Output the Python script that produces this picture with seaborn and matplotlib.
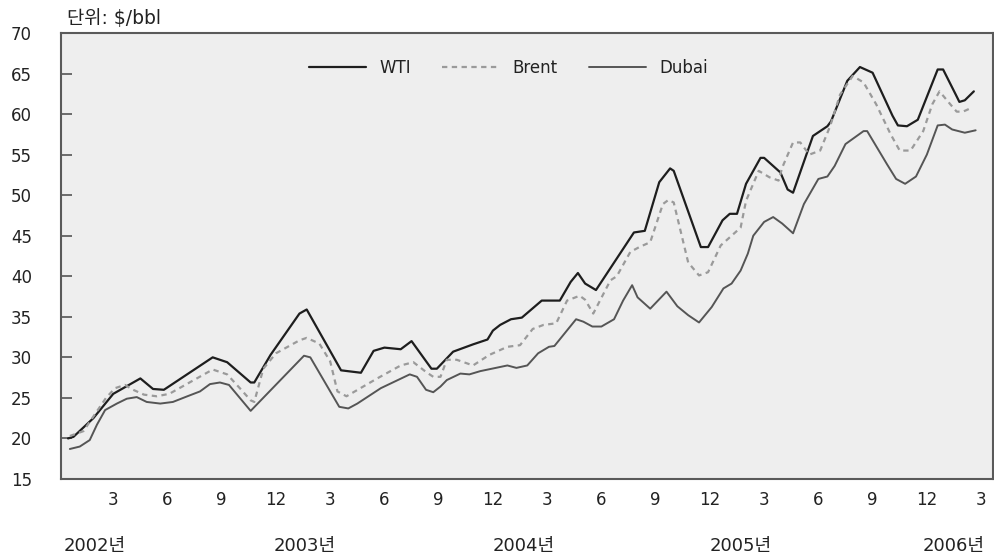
import matplotlib
matplotlib.use("Agg")
import matplotlib.pyplot as plt
import pandas as pd
import seaborn as sns

# x values are months counted from 2002-01-01
wti_month = [0.0, 0.3, 1.4, 2.5, 4.0, 4.7, 5.3, 8.0, 8.8, 10.1, 10.3, 11.2, 12.8, 13.2,
             15.1, 16.2, 16.9, 17.5, 18.4, 19.0, 20.1, 20.4, 21.3, 22.4, 23.2, 23.5,
             23.9, 24.5, 25.1, 26.2, 27.2, 27.8, 28.2, 28.6, 29.2, 31.3, 31.9, 32.7,
             33.3, 33.5, 35.0, 35.4, 36.2, 36.6, 37.0, 37.5, 38.3, 38.5, 39.4, 39.8,
             40.1, 41.2, 42.0, 42.2, 43.1, 43.8, 44.5, 45.6, 45.9, 46.4, 47.0, 48.1,
             48.4, 49.1, 49.3, 49.6, 50.1]
wti_price = [20.0, 20.2, 22.5, 25.5, 27.4, 26.1, 26.0, 30.0, 29.4, 26.9, 26.9, 30.3, 35.4, 35.9,
             28.4, 28.1, 30.8, 31.2, 31.0, 32.0, 28.6, 28.6, 30.7, 31.6, 32.2, 33.3,
             34.0, 34.7, 34.9, 37.0, 37.0, 39.3, 40.4, 39.1, 38.3, 45.4, 45.6, 51.6,
             53.3, 53.0, 43.6, 43.6, 46.9, 47.7, 47.7, 51.4, 54.6, 54.6, 52.8, 50.7,
             50.3, 57.3, 58.5, 59.1, 64.1, 65.8, 65.1, 59.8, 58.6, 58.5, 59.3, 65.5,
             65.5, 62.4, 61.5, 61.7, 62.8]

brent_month = [0.1, 0.85, 2.1, 2.6, 3.15, 3.6, 4.2, 4.9, 5.6, 8.0, 8.8, 9.5, 10.1, 10.3,
               10.8, 11.5, 12.8, 13.2, 13.9, 14.5, 14.9, 15.4, 17.1, 18.4, 19.1, 19.8,
               20.2, 20.6, 20.95, 21.5, 22.4, 23.3, 24.3, 25.0, 25.7, 26.3, 27.0, 27.6,
               28.3, 28.6, 29.05, 30.0, 30.35, 31.1, 31.6, 32.2, 32.9, 33.2, 33.5, 33.9,
               34.3, 34.9, 35.4, 36.1, 36.8, 37.2, 37.5, 38.2, 38.8, 39.3, 39.5, 40.1,
               40.5, 41.0, 41.6, 42.15, 42.7, 43.4, 44.0, 44.7, 45.5, 46.0, 46.6, 47.3,
               47.8, 48.2, 48.8, 49.15, 49.5, 50.0]
brent_price = [20.3, 20.9, 25.0, 26.2, 26.6, 26.0, 25.4, 25.2, 25.5, 28.5, 27.9, 26.2, 24.7, 24.5,
               28.6, 30.5, 32.1, 32.4, 31.7, 29.5, 25.8, 25.2, 27.4, 29.0, 29.4, 28.2,
               27.6, 27.6, 29.7, 29.7, 29.0, 30.3, 31.3, 31.5, 33.5, 34.0, 34.2, 37.0,
               37.6, 37.1, 35.4, 39.5, 40.0, 43.0, 43.6, 44.2, 48.9, 49.4, 49.1, 45.4,
               41.7, 40.1, 40.5, 43.8, 45.2, 46.0, 49.3, 53.0, 52.2, 51.8, 53.4, 56.5,
               56.5, 55.0, 55.5, 58.5, 62.4, 64.7, 63.9, 61.2, 57.5, 55.5, 55.5, 57.9,
               61.2, 62.8, 61.2, 60.3, 60.3, 60.8]

dubai_month = [0.1, 0.65, 1.2, 1.6, 2.05, 2.7, 3.25, 3.8, 4.35, 5.1, 5.8, 6.6, 7.3, 7.85,
               8.4, 8.9, 10.1, 13.05, 13.4, 15.0, 15.5, 16.0, 17.3, 18.9, 19.3, 19.8,
               20.2, 20.6, 20.95, 21.7, 22.2, 22.8, 24.3, 24.8, 25.4, 26.0, 26.6, 26.9,
               28.1, 28.5, 29.0, 29.5, 30.2, 30.7, 31.2, 31.5, 32.2, 33.1, 33.7, 34.3,
               34.9, 35.6, 36.25, 36.7, 37.2, 37.6, 37.9, 38.5, 39.0, 39.5, 40.1, 40.7,
               41.5, 42.0, 42.4, 43.0, 44.0, 44.2, 45.3, 45.8, 46.3, 46.9, 47.5, 48.1,
               48.5, 48.9, 49.6, 50.2]
dubai_price = [18.7, 19.0, 19.8, 21.7, 23.5, 24.3, 24.9, 25.1, 24.5, 24.3, 24.5, 25.2, 25.8, 26.7,
               26.9, 26.6, 23.4, 30.2, 30.0, 23.9, 23.7, 24.3, 26.2, 27.9, 27.6, 26.0,
               25.7, 26.4, 27.2, 28.0, 27.9, 28.3, 29.0, 28.7, 29.0, 30.5, 31.3, 31.4,
               34.7, 34.4, 33.8, 33.8, 34.7, 37.0, 38.9, 37.4, 36.0, 38.1, 36.3, 35.2,
               34.3, 36.2, 38.5, 39.1, 40.7, 42.8, 45.0, 46.7, 47.3, 46.5, 45.3, 48.9,
               52.0, 52.3, 53.6, 56.3, 57.9, 57.9, 53.8, 52.0, 51.4, 52.3, 55.0, 58.6,
               58.7, 58.1, 57.7, 58.0]

month_labels = ["3", "6", "9", "12"]
year_labels = ["2002년", "2003년", "2004년", "2005년", "2006년"]
year_pos = [1.5, 13.1, 25.2, 37.2, 49.0]

TEXT_COLOR = "#222222"

sns.set_theme(style="white")
# Latin glyphs from DejaVu (wide, like the original gothic), Hangul falls back to Noto CJK
plt.rcParams["font.family"] = ["DejaVu Sans", "Noto Sans CJK KR"]

fig = plt.figure(figsize=(9.95, 5.58), dpi=100)
ax = fig.add_axes([0.0613, 0.1416, 0.9367, 0.7993])
ax.set_facecolor("#eeeeee")

wti = pd.DataFrame({"month": wti_month, "price": wti_price})
brent = pd.DataFrame({"month": brent_month, "price": brent_price})
dubai = pd.DataFrame({"month": dubai_month, "price": dubai_price})

sns.lineplot(data=wti, x="month", y="price", ax=ax, estimator=None, sort=False,
             color="#1e1e1e", linewidth=1.6, label="WTI")
sns.lineplot(data=brent, x="month", y="price", ax=ax, estimator=None, sort=False,
             color="#9a9a9a", linewidth=1.6, linestyle=(0, (2.4, 2.0)), label="Brent")
sns.lineplot(data=dubai, x="month", y="price", ax=ax, estimator=None, sort=False,
             color="#555555", linewidth=1.4, label="Dubai")

ax.set_xlim(-0.39, 51.16)
ax.set_ylim(15, 70)
ax.set_xlabel("")
ax.set_ylabel("")

ax.set_yticks(range(15, 71, 5))
ax.tick_params(axis="y", direction="in", length=8, width=1.2, color="#555555",
               pad=21, labelsize=12, labelcolor=TEXT_COLOR, left=True)
xticks = [2.5 + 3 * k for k in range(17)]
ax.set_xticks(xticks)
ax.set_xticklabels([month_labels[k % 4] for k in range(17)])
ax.tick_params(axis="x", length=0, pad=9, labelsize=12, labelcolor=TEXT_COLOR)

for side in ["left", "right", "top", "bottom"]:
    ax.spines[side].set_visible(True)
    ax.spines[side].set_color("#5a5a5a")
    ax.spines[side].set_linewidth(1.5)

for lbl, pos in zip(year_labels, year_pos):
    ax.text(pos, -0.15, lbl, transform=ax.get_xaxis_transform(), ha="center",
            va="center", fontsize=13, color=TEXT_COLOR)

fig.text(0.067, 0.966, "단위: $/bbl", ha="left", va="center", fontsize=13.5, color=TEXT_COLOR)

leg = ax.legend(loc="center", bbox_to_anchor=(0.48, 0.921), ncol=3, frameon=False,
                fontsize=12, handlelength=3.4, handletextpad=0.8, columnspacing=1.9)
for t in leg.get_texts():
    t.set_color(TEXT_COLOR)

fig.savefig("out.png", dpi=100)
